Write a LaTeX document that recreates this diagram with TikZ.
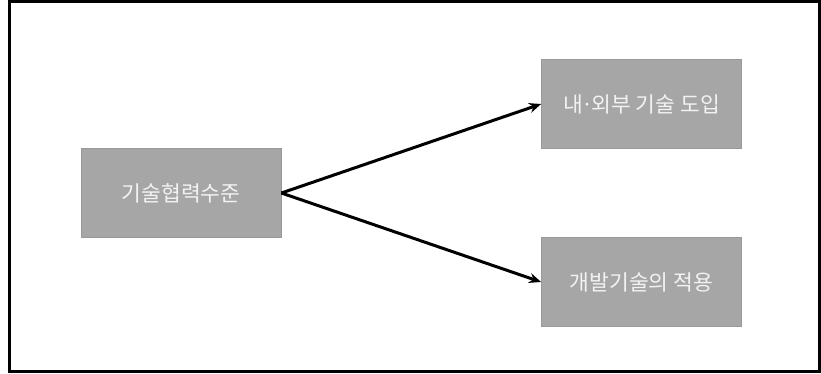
\documentclass[tikz,border=0pt]{standalone}
\usepackage{fontspec}
\newfontfamily\kofont{Noto Sans CJK KR}
\usetikzlibrary{arrows.meta}
\definecolor{boxfill}{HTML}{A6A6A6}
\definecolor{boxline}{HTML}{999999}
\definecolor{boxtext}{HTML}{F2F2F2}
\begin{document}
\begin{tikzpicture}[x=1pt,y=-1pt,
  box/.style={draw=boxline, line width=0.8pt, fill=boxfill, minimum width=200pt, minimum height=89pt,
    inner sep=0pt, text=boxtext, font=\kofont\fontsize{21.5}{26}\selectfont},
  conn/.style={line width=3pt, -{Stealth[length=12pt,width=10pt]}}]
\useasboundingbox (0,0) rectangle (821,373);
\draw[line width=3pt] (9.5,1.5) rectangle (819.5,371.5);
\node[box] (src) at (181,193) {기술협력수준};
\node[box] (top) at (641.5,104) {내{\kern-0.08em}·{\kern-0.08em}외부 기술 도입};
\node[box] (bot) at (641.5,282) {개발기술의 적용};
\draw[conn] (src.east) -- (top.west);
\draw[conn] (src.east) -- (bot.west);
\end{tikzpicture}
\end{document}
